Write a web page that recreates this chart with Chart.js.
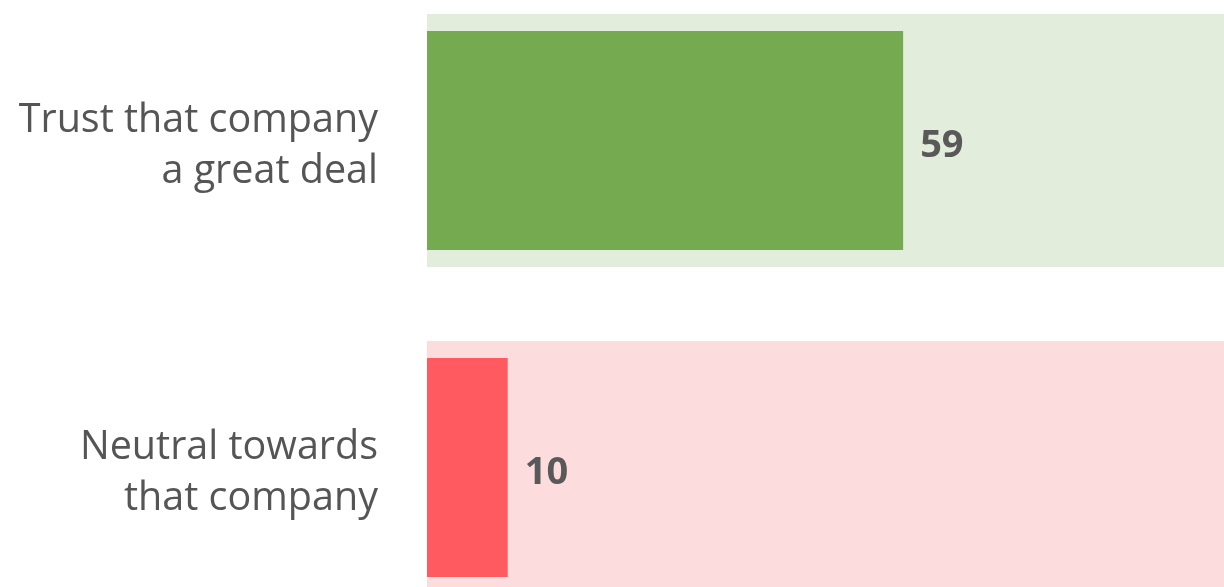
<!DOCTYPE html>
<html lang="en">
  <head>
    <meta charset="UTF-8" />
    <title>Trust in company</title>
    <script src="https://cdn.jsdelivr.net/npm/chart.js"></script>
    <style>
      html, body { margin: 0; padding: 0; background: #fff; }
      #wrap { position: relative; width: 1224px; height: 587px; overflow: hidden; }
      #trustChart { position: absolute; left: 0; top: -23px; }
    </style>
  </head>
  <body>
    <div id="wrap">
      <canvas id="trustChart" width="1234" height="654"></canvas>
    </div>
    <script>
      const categories = [
        ["Trust that company", "a great deal"],
        ["Neutral towards", "that company"],
      ];
      const values = [59, 10];
      const totals = [100, 100];
      const barColors = ["#75aa50", "#ff5a5f"];
      const trackColors = ["#e2eddc", "#fddcde"];

      // value labels to the right of each bar
      const valueLabels = {
        id: "valueLabels",
        afterDatasetsDraw(chart) {
          const ctx = chart.ctx;
          const meta = chart.getDatasetMeta(0);
          ctx.save();
          ctx.font = "bold 38px 'Open Sans', sans-serif";
          ctx.fillStyle = "#595959";
          ctx.textAlign = "left";
          ctx.textBaseline = "middle";
          meta.data.forEach((bar, i) => {
            ctx.fillText(String(values[i]), bar.x + 17, bar.y + 6);
          });
          ctx.restore();
        },
      };

      const ctx = document.getElementById("trustChart").getContext("2d");
      new Chart(ctx, {
        type: "bar",
        data: {
          labels: categories,
          datasets: [
            {
              data: values,
              backgroundColor: barColors,
              barPercentage: 0.67,
              categoryPercentage: 1,
              order: 0,
            },
            {
              data: totals,
              backgroundColor: trackColors,
              barPercentage: 0.774,
              categoryPercentage: 1,
              order: 1,
            },
          ],
        },
        options: {
          indexAxis: "y",
          responsive: false,
          animation: false,
          layout: { padding: 0 },
          datasets: { bar: { grouped: false } },
          scales: {
            x: {
              display: false,
              min: 0,
              max: 100,
            },
            y: {
              afterFit: (scale) => {
                scale.width = 427;
                scale.paddingTop = 0;
                scale.paddingBottom = 0;
              },
              grid: { display: false, drawTicks: false },
              border: { display: false },
              ticks: {
                padding: 49,
                labelOffset: 6,
                color: "#555555",
                font: { family: "'Open Sans', sans-serif", size: 39.5, lineHeight: 1.28 },
              },
            },
          },
          plugins: {
            legend: { display: false },
            tooltip: { enabled: false },
          },
        },
        plugins: [valueLabels],
      });
    </script>
  </body>
</html>
